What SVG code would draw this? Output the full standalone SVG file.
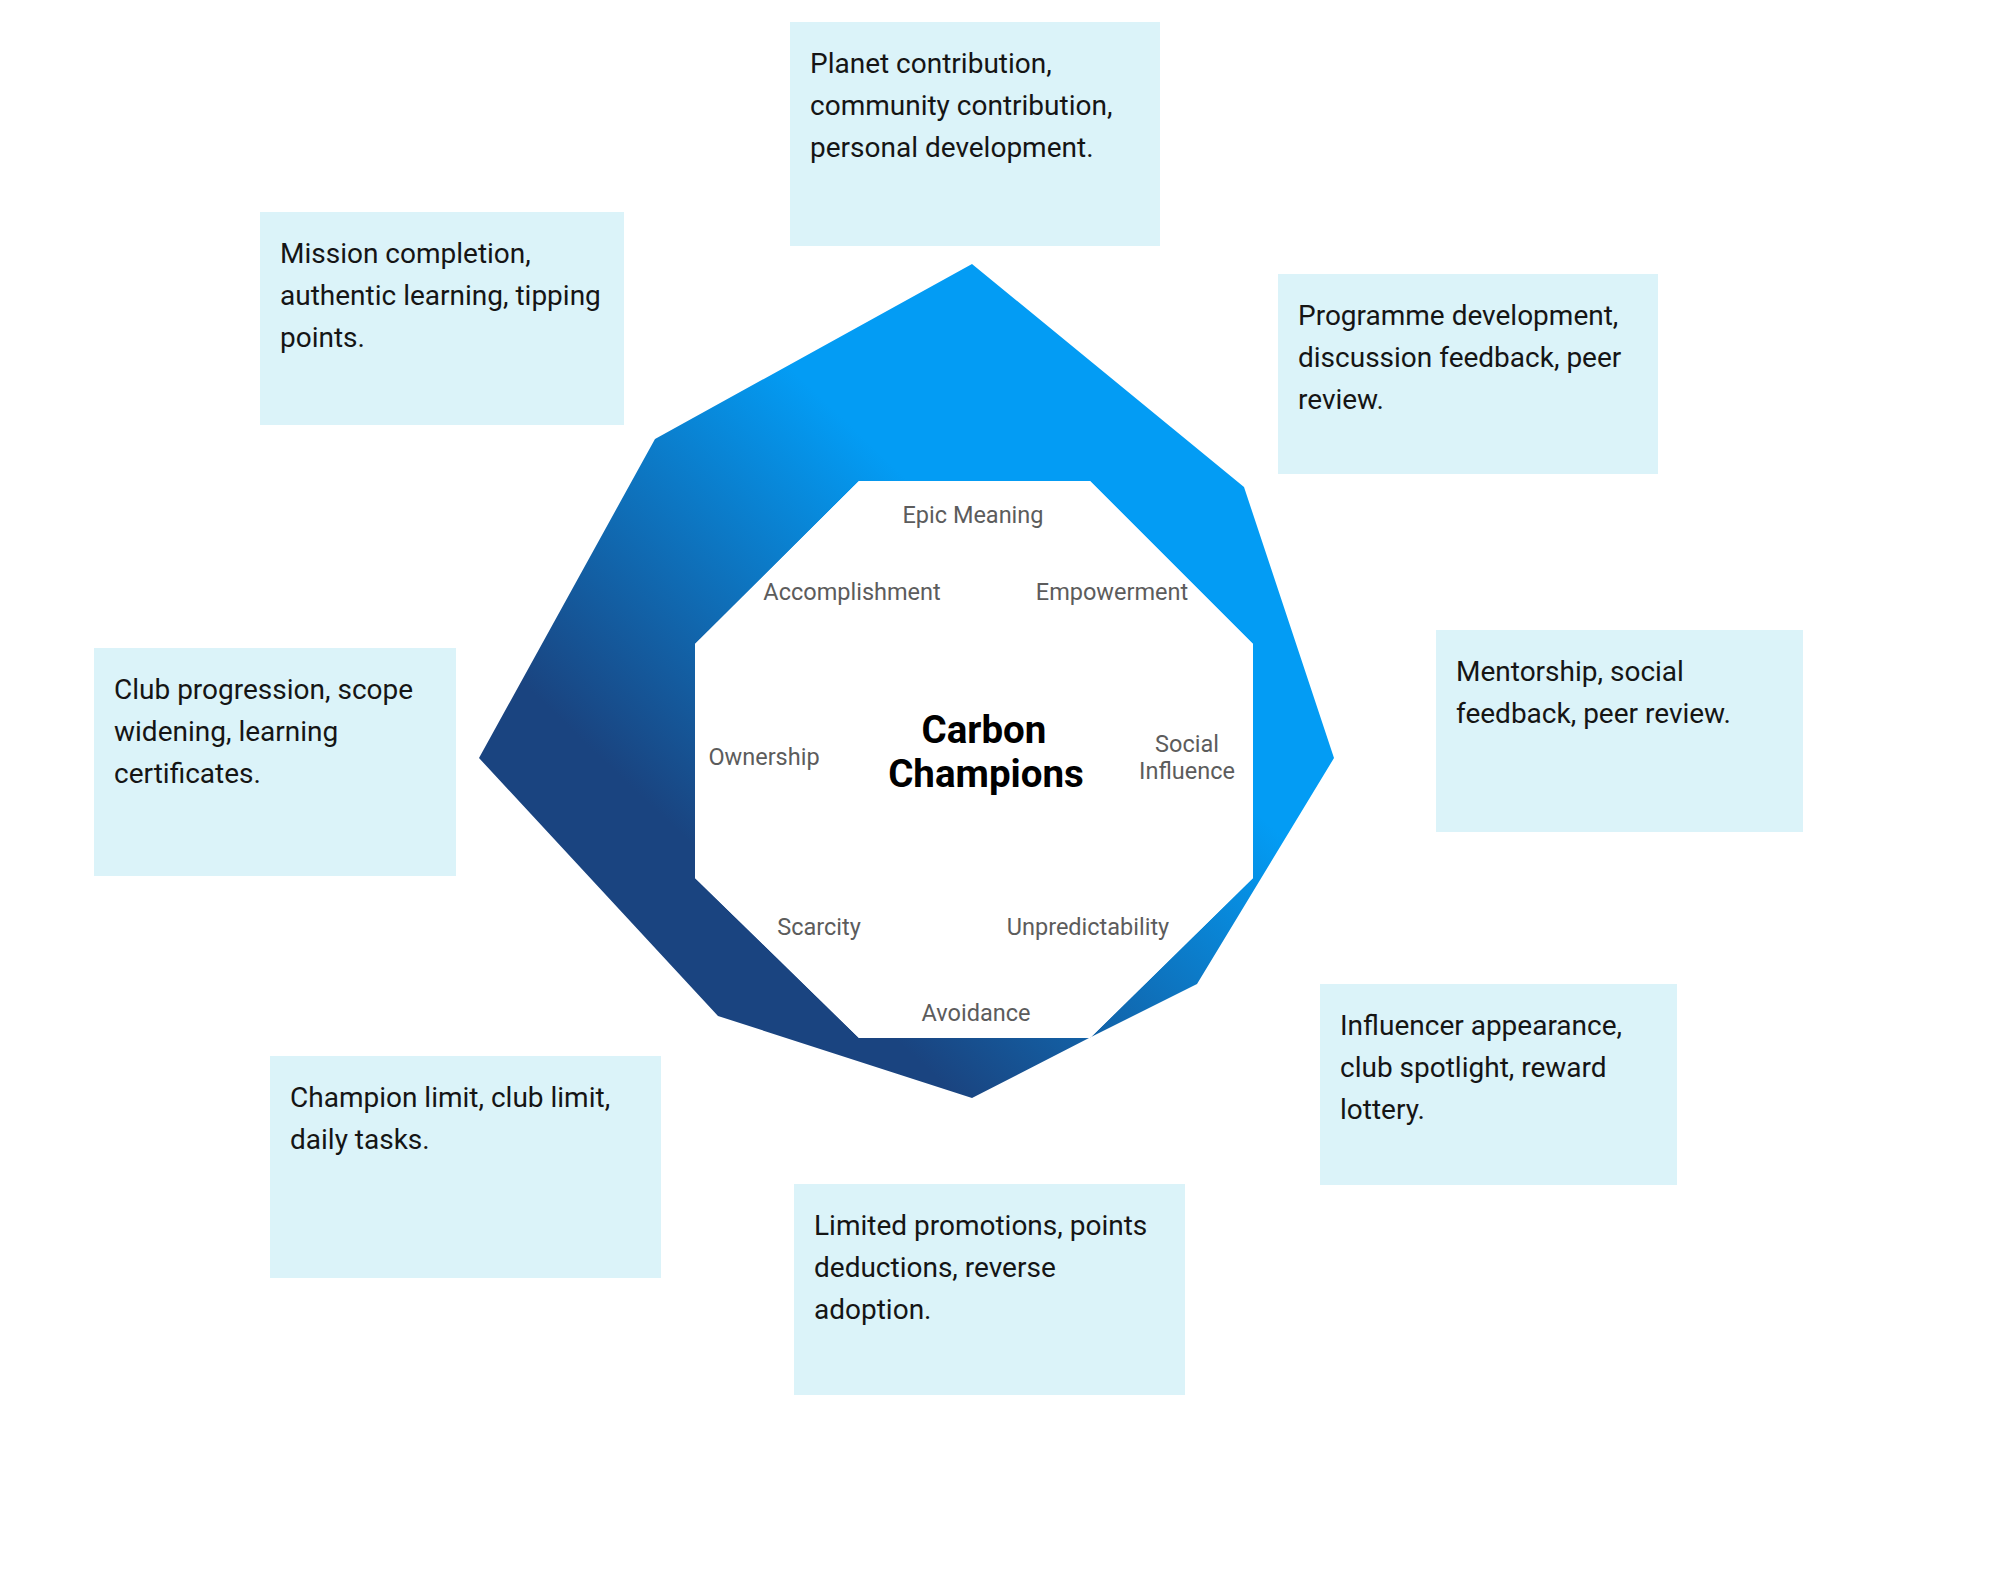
<svg xmlns="http://www.w3.org/2000/svg" width="2014" height="1586" viewBox="0 0 2014 1586">
<defs>
<linearGradient id="ringGrad" gradientUnits="userSpaceOnUse" x1="1082" y1="646" x2="797" y2="945">
<stop offset="0" stop-color="#039cf4"/>
<stop offset="1" stop-color="#1a4480"/>
</linearGradient>
<style>
.box{fill:#dbf3f9}
.bt{font-family:Roboto,"Liberation Sans",sans-serif;font-size:28px;fill:#151515}
.lab{font-family:Roboto,"Liberation Sans",sans-serif;font-size:23.5px;fill:#5c5c5c;text-anchor:middle}
.title{font-family:Roboto,"Liberation Sans",sans-serif;font-size:38.5px;font-weight:bold;fill:#000;text-anchor:middle}
</style>
</defs>
<rect width="2014" height="1586" fill="#fff"/>
<g id="ring">
<path fill="url(#ringGrad)" fill-rule="evenodd" d="M972,264 L1244,487 L1334,758 L1197,984 L1089,1038 L972,1098 L718,1016 L479,758 L655,439 Z M859,481 L1090,481 L1253,644 L1253,878 L1090,1038 L859,1038 L695,878 L695,644 Z"/>
</g>
<g id="core">
<polygon points="859,481 1090,481 1253,644 1253,878 1090,1038 859,1038 695,878 695,644" fill="#fff"/>
<text class="title" x="984" y="743">Carbon</text>
<text class="title" x="986" y="787">Champions</text>
</g>
<g id="labels">
<text class="lab" x="973" y="523">Epic Meaning</text>
<text class="lab" x="852" y="600">Accomplishment</text>
<text class="lab" x="1112" y="600">Empowerment</text>
<text class="lab" x="764" y="765">Ownership</text>
<text class="lab" x="1187" y="752">Social</text>
<text class="lab" x="1187" y="779">Influence</text>
<text class="lab" x="819" y="935">Scarcity</text>
<text class="lab" x="1088" y="935">Unpredictability</text>
<text class="lab" x="976" y="1021">Avoidance</text>
</g>
<g id="connectors"/>
<g id="box-epic">
<rect class="box" x="790" y="22" width="370" height="224"/>
<text class="bt" x="810" y="73">Planet contribution,</text>
<text class="bt" x="810" y="115">community contribution,</text>
<text class="bt" x="810" y="157">personal development.</text>
</g>
<g id="box-accomplishment">
<rect class="box" x="260" y="212" width="364" height="213"/>
<text class="bt" x="280" y="263">Mission completion,</text>
<text class="bt" x="280" y="305">authentic learning, tipping</text>
<text class="bt" x="280" y="347">points.</text>
</g>
<g id="box-empowerment">
<rect class="box" x="1278" y="274" width="380" height="200"/>
<text class="bt" x="1298" y="325">Programme development,</text>
<text class="bt" x="1298" y="367">discussion feedback, peer</text>
<text class="bt" x="1298" y="409">review.</text>
</g>
<g id="box-social">
<rect class="box" x="1436" y="630" width="367" height="202"/>
<text class="bt" x="1456" y="681">Mentorship, social</text>
<text class="bt" x="1456" y="723">feedback, peer review.</text>
</g>
<g id="box-unpredictability">
<rect class="box" x="1320" y="984" width="357" height="201"/>
<text class="bt" x="1340" y="1035">Influencer appearance,</text>
<text class="bt" x="1340" y="1077">club spotlight, reward</text>
<text class="bt" x="1340" y="1119">lottery.</text>
</g>
<g id="box-avoidance">
<rect class="box" x="794" y="1184" width="391" height="211"/>
<text class="bt" x="814" y="1235">Limited promotions, points</text>
<text class="bt" x="814" y="1277">deductions, reverse</text>
<text class="bt" x="814" y="1319">adoption.</text>
</g>
<g id="box-scarcity">
<rect class="box" x="270" y="1056" width="391" height="222"/>
<text class="bt" x="290" y="1107">Champion limit, club limit,</text>
<text class="bt" x="290" y="1149">daily tasks.</text>
</g>
<g id="box-ownership">
<rect class="box" x="94" y="648" width="362" height="228"/>
<text class="bt" x="114" y="699">Club progression, scope</text>
<text class="bt" x="114" y="741">widening, learning</text>
<text class="bt" x="114" y="783">certificates.</text>
</g>
</svg>
